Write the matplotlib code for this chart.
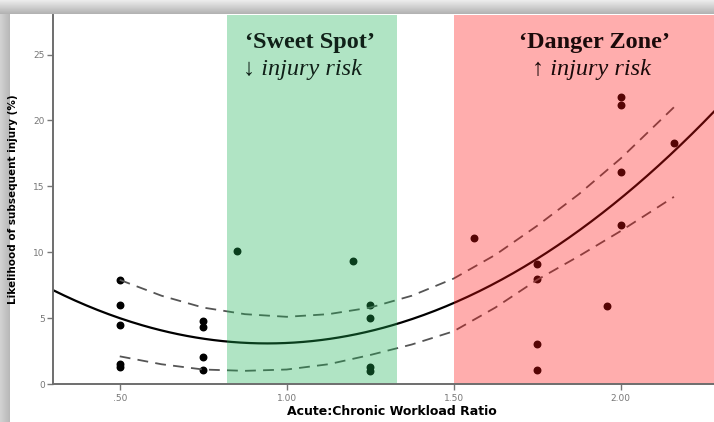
import numpy as np
import matplotlib.pyplot as plt

# Acute:chronic workload ratio vs. likelihood of subsequent injury
acwr = [0.50, 0.50, 0.50, 0.50, 0.50,
        0.75, 0.75, 0.75, 0.75,
        0.85, 1.20,
        1.25, 1.25, 1.25, 1.25,
        1.56,
        1.75, 1.75, 1.75, 1.75,
        1.96,
        2.00, 2.00, 2.00, 2.00,
        2.16]
injury = [7.9, 6.0, 4.5, 1.5, 1.3,
          4.8, 4.3, 2.05, 1.06,
          10.1, 9.3,
          6.0, 5.0, 1.3, 1.0,
          11.1,
          9.1, 8.0, 3.0, 1.06,
          5.9,
          21.8, 21.2, 16.1, 12.1,
          18.3]

# 95% confidence band around the fitted curve
band_x = [0.50, 0.625, 0.75, 0.875, 1.00, 1.125, 1.25, 1.375,
          1.50, 1.625, 1.75, 1.875, 2.00, 2.16]
band_upper = [7.9, 6.7, 5.8, 5.3, 5.1, 5.3, 5.8, 6.7,
              8.0, 9.8, 12.0, 14.4, 17.1, 21.0]
band_lower = [2.1, 1.5, 1.1, 1.0, 1.1, 1.5, 2.2, 3.0,
              4.0, 5.8, 7.9, 9.7, 11.6, 14.2]

sweet_spot = (0.82, 1.33)
danger_zone = (1.50, 2.30)
x_ticks = [0.5, 1.0, 1.5, 2.0]
x_ticklabels = [".50", "1.00", "1.50", "2.00"]
y_ticks = [0, 5, 10, 15, 20, 25]

x = np.array(acwr)
y = np.array(injury)

# quadratic fit line
coef = np.polyfit(x, y, 2)
x_line = np.linspace(0.30, 2.30, 300)
y_line = np.polyval(coef, x_line)

fig = plt.figure(figsize=(7.14, 4.22), dpi=100)

# grey frame shadow along the top and left edge
bg = fig.add_axes([0, 0, 1, 1], zorder=-5)
bg.set_axis_off()
top_grad = np.linspace(0.92, 0.70, 14)[:, None] * np.ones((1, 10))
left_grad = np.linspace(0.82, 0.72, 10)[None, :] * np.ones((10, 1))
bg.imshow(top_grad, cmap="gray", vmin=0, vmax=1, extent=(0, 714, 14, 0),
          aspect="auto")
bg.imshow(left_grad, cmap="gray", vmin=0, vmax=1, extent=(0, 10, 422, 14),
          aspect="auto")
bg.set_xlim(0, 714)
bg.set_ylim(422, 0)

ax = fig.add_axes([0.0742, 0.090, 0.9258, 0.8745])
ax.scatter(x, y, s=22, color="black", zorder=2)
ax.plot(x_line, y_line, color="black", lw=1.6, zorder=2)
ax.plot(band_x, band_upper, color="#555555", lw=1.3,
        ls=(0, (6, 4)), zorder=2)
ax.plot(band_x, band_lower, color="#555555", lw=1.3,
        ls=(0, (6, 4)), zorder=2)

# translucent zones laid over the data
ax.axvspan(*sweet_spot, color="#1db256", alpha=0.35, lw=0, zorder=2.3)
ax.axvspan(*danger_zone, color="#ff1010", alpha=0.34, lw=0, zorder=2.3)

ax.text(1.069, 25.9, "\u2018Sweet Spot\u2019", ha="center", va="center",
        family="Liberation Serif", weight="bold", fontsize=17.5,
        color="#102018", zorder=3)
ax.text(1.048, 23.9, "\u2193 injury risk", ha="center", va="center",
        family="Liberation Serif", style="italic", fontsize=17.5,
        color="#102018", zorder=3)
ax.text(1.922, 25.9, "\u2018Danger Zone\u2019", ha="center", va="center",
        family="Liberation Serif", weight="bold", fontsize=17.5,
        color="#1a0a0a", zorder=3)
ax.text(1.913, 23.9, "\u2191 injury risk", ha="center", va="center",
        family="Liberation Serif", style="italic", fontsize=17.5,
        color="#1a0a0a", zorder=3)

ax.set_xlim(0.30, 2.28)
ax.set_ylim(0, 28)
ax.set_xticks(x_ticks)
ax.set_xticklabels(x_ticklabels)
ax.set_yticks(y_ticks)
ax.tick_params(labelsize=6.5, colors="#777777", length=4, width=1,
               pad=2)
ax.tick_params(axis="x", pad=3)

for side in ["top", "right"]:
    ax.spines[side].set_visible(False)
for side in ["left", "bottom"]:
    ax.spines[side].set_color("#6e6e6e")
    ax.spines[side].set_linewidth(1.4)
    ax.spines[side].set_zorder(2.5)

ax.set_xlabel("Acute:Chronic Workload Ratio", fontsize=9, weight="bold")
ax.xaxis.set_label_coords(0.513, -0.058)
ax.set_ylabel("Likelihood of subsequent injury (%)", fontsize=7.5,
              weight="bold")
ax.yaxis.set_label_coords(-0.053, 0.5)

fig.savefig("out.png", dpi=100)
